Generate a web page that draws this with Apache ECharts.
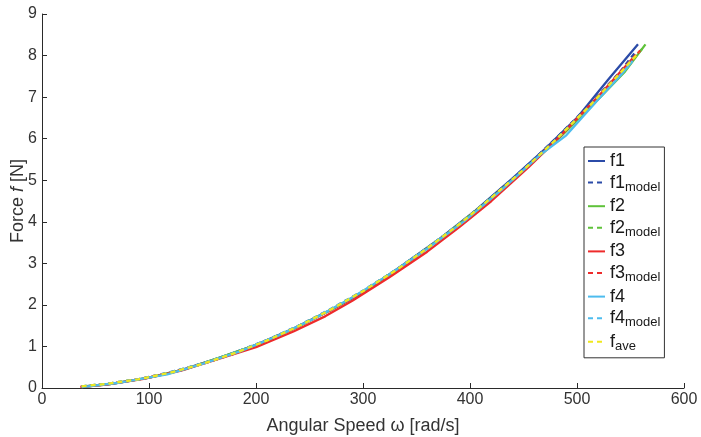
<!DOCTYPE html>
<html>
<head>
<meta charset="utf-8">
<script src="https://cdn.jsdelivr.net/npm/echarts@6/dist/echarts.min.js"></script>
<style>
  html, body { margin: 0; padding: 0; background: #fff; }
  #chart { width: 701px; height: 437px; }
</style>
</head>
<body>
<div id="chart"></div>
<script>
// measured force curves, [omega rad/s, force N]
const f1 = [[37,0.03],[62,0.09],[100,0.25],[130,0.43],[165,0.72],[200,1.04],[235,1.43],[270,1.88],[300,2.3],[335,2.92],[370,3.56],[405,4.27],[440,5.05],[470,5.75],[500,6.5],[530,7.45],[557,8.27]]
const f2 = [[37,0.03],[65,0.1],[100,0.25],[135,0.46],[170,0.77],[205,1.08],[240,1.48],[275,1.95],[305,2.4],[340,2.99],[375,3.64],[410,4.36],[445,5.12],[480,5.93],[515,6.82],[545,7.62],[564,8.27]]
const f3 = [[36,0.02],[60,0.08],[95,0.22],[130,0.42],[165,0.7],[200,0.98],[235,1.36],[265,1.73],[290,2.1],[325,2.67],[360,3.28],[390,3.87],[420,4.5],[455,5.32],[485,6.08],[520,7.02],[555,8.02]]
const f4 = [[37,0.02],[70,0.12],[117,0.33],[150,0.58],[185,0.88],[220,1.25],[255,1.68],[290,2.18],[325,2.74],[360,3.35],[395,4.02],[430,4.78],[465,5.6],[490,6.08],[520,6.95],[540,7.5],[552,7.87]]

// fitted models
const f1model = [[37,0.04],[60,0.1],[90,0.21],[120,0.38],[150,0.59],[180,0.85],[210,1.15],[240,1.5],[270,1.9],[300,2.34],[330,2.83],[360,3.37],[390,3.95],[420,4.59],[450,5.27],[480,6.0],[510,6.77],[540,7.6],[555,8.1]]
const f2model = [[37,0.04],[60,0.1],[90,0.21],[120,0.37],[150,0.58],[180,0.84],[210,1.14],[240,1.49],[270,1.89],[300,2.33],[330,2.82],[360,3.36],[390,3.94],[420,4.57],[450,5.24],[480,5.96],[510,6.73],[540,7.55],[563,8.22]]
const f3model = [[36,0.03],[60,0.09],[90,0.21],[120,0.37],[150,0.58],[180,0.83],[210,1.13],[240,1.48],[270,1.88],[300,2.32],[330,2.81],[360,3.35],[390,3.93],[420,4.56],[450,5.24],[480,5.96],[510,6.74],[540,7.56],[559,8.12]]
const f4model = [[37,0.04],[60,0.1],[90,0.21],[120,0.38],[150,0.59],[180,0.85],[210,1.15],[240,1.5],[270,1.9],[300,2.34],[330,2.83],[360,3.37],[390,3.95],[420,4.58],[450,5.25],[480,5.97],[510,6.74],[540,7.56],[553,7.95]]
const fave = [[37,0.04],[60,0.1],[90,0.21],[120,0.37],[150,0.58],[180,0.84],[210,1.14],[240,1.49],[270,1.89],[300,2.33],[330,2.82],[360,3.36],[390,3.94],[420,4.58],[450,5.25],[480,5.97],[510,6.74],[540,7.57],[558,8.08]]

const xTicks = [0, 600, 100]
const yTicks = [0, 9, 1]

const chart = echarts.init(document.getElementById('chart'))
const font = 'Liberation Sans, Arial, Helvetica, sans-serif'
const dash = [5, 4]

function line(name, data, color, dashed) {
  return {
    name, type: 'line', data, symbol: 'none', smooth: false, silent: true,
    lineStyle: { color, width: 2.3, type: dashed ? dash : 'solid' },
    itemStyle: { color }
  }
}

const legendText = {
  f1: '{m|f1}', f1model: '{m|f1}{s|model}',
  f2: '{m|f2}', f2model: '{m|f2}{s|model}',
  f3: '{m|f3}', f3model: '{m|f3}{s|model}',
  f4: '{m|f4}', f4model: '{m|f4}{s|model}',
  fave: '{m|f}{s|ave}'
}

chart.setOption({
  animation: false,
  backgroundColor: '#fff',
  grid: { left: 42, right: 17, top: 14, bottom: 49, outerBoundsMode: 'none', containLabel: false },
  legend: {
    orient: 'vertical', left: 584, top: 147,
    padding: [5, 4, 5, 3], itemGap: 3.6,
    itemWidth: 17, itemHeight: 12,
    borderColor: '#333', borderWidth: 1, backgroundColor: '#fff',
    itemStyle: { opacity: 0 },
    formatter: n => legendText[n],
    textStyle: {
      rich: {
        m: { fontFamily: font, fontSize: 18, color: '#1a1a1a', lineHeight: 22 },
        s: { fontFamily: font, fontSize: 13, color: '#1a1a1a', lineHeight: 12, verticalAlign: 'bottom' }
      }
    }
  },
  xAxis: {
    type: 'value', min: xTicks[0], max: xTicks[1], interval: xTicks[2],
    name: 'Angular Speed ω [rad/s]', nameLocation: 'middle', nameGap: 29,
    nameTextStyle: { fontFamily: font, fontSize: 18, color: '#333' },
    axisLine: { lineStyle: { color: '#2a2a2a', width: 1 } },
    axisTick: { inside: true, length: 5, lineStyle: { color: '#2a2a2a' } },
    axisLabel: { fontFamily: font, fontSize: 16, color: '#333', margin: 4 },
    splitLine: { show: false }
  },
  yAxis: {
    type: 'value', min: yTicks[0], max: yTicks[1], interval: yTicks[2],
    name: 'Force {i|f} [N]', nameLocation: 'middle', nameGap: 15, nameMoveOverlap: false,
    nameTextStyle: {
      fontFamily: font, fontSize: 18, color: '#333',
      rich: { i: { fontFamily: font, fontSize: 18, color: '#333', fontStyle: 'italic' } }
    },
    axisLine: { show: true, lineStyle: { color: '#2a2a2a', width: 1 } },
    axisTick: { show: true, inside: true, length: 5, lineStyle: { color: '#2a2a2a' } },
    axisLabel: { fontFamily: font, fontSize: 16, color: '#333', margin: 5 },
    splitLine: { show: false }
  },
  series: [
    line('f1', f1, '#2b4ba8', false),
    line('f1model', f1model, '#2b4ba8', true),
    line('f2', f2, '#5fc23a', false),
    line('f2model', f2model, '#5fc23a', true),
    line('f3', f3, '#ee2b2b', false),
    line('f3model', f3model, '#ee2b2b', true),
    line('f4', f4, '#4dbcee', false),
    line('f4model', f4model, '#4dbcee', true),
    line('fave', fave, '#f0e81c', true)
  ]
})
</script>
</body>
</html>
